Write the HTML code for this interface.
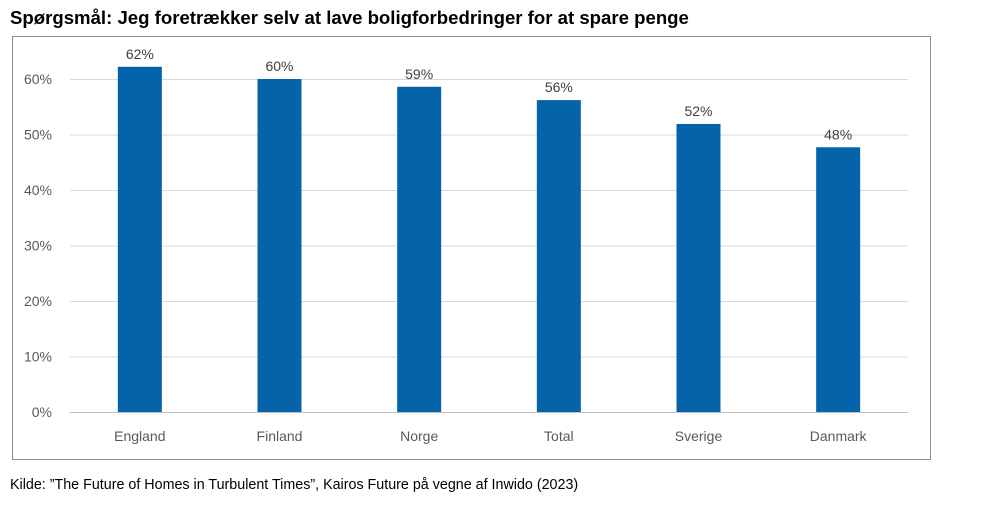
<!DOCTYPE html>
<html><head><meta charset="utf-8"><style>
body{margin:0;background:#fff;width:1000px;height:516px;overflow:hidden;font-family:"Liberation Sans",Arial,sans-serif;}
</style></head><body>
<svg width="1000" height="516" xmlns="http://www.w3.org/2000/svg">
<text x="10" y="24" font-size="18.6" font-weight="bold" fill="#000">Spørgsmål: Jeg foretrækker selv at lave boligforbedringer for at spare penge</text>
<rect x="12.5" y="36.5" width="918" height="423" fill="#fff" stroke="#8c8c8c"/>
<g id="grid"></g><g id="bars"></g><g id="labels"></g>
<text x="10" y="489" font-size="14.3" fill="#000">Kilde: ”The Future of Homes in Turbulent Times”, Kairos Future på vegne af Inwido (2023)</text>
</svg>
<script>
const categories=["England","Finland","Norge","Total","Sverige","Danmark"];
const values=[62.2,60,58.6,56.2,51.9,47.7];
const valueLabels=["62%","60%","59%","56%","52%","48%"];
const ticks=[0,10,20,30,40,50,60];
const NS="http://www.w3.org/2000/svg";
const x0=70,x1=908,y0=412,pxPer=5.55;
const y=v=>y0-v*pxPer;
const step=(x1-x0)/categories.length;
const xc=i=>x0+step*(i+0.5);
function mk(t,a,p,txt){const e=document.createElementNS(NS,t);for(const k in a)e.setAttribute(k,a[k]);if(txt!=null)e.textContent=txt;document.getElementById(p).appendChild(e);return e;}
ticks.forEach(t=>{
const l=mk("line",{x1:x0,x2:x1,y1:y(t)+0.5,y2:y(t)+0.5,stroke:t===0?"#bfbfbf":"#d9d9d9","stroke-width":1},"grid");


const tx=mk("text",{x:52,y:y(t)+5,"font-size":14,fill:"#595959","text-anchor":"end"},"grid",t+"%");


});
categories.forEach((c,i)=>{
const v=values[i];
const r=mk("rect",{x:xc(i)-22,y:y(v),width:44,height:y0-y(v),fill:"#0563a9"},"bars");


const vl=mk("text",{x:xc(i),y:y(v)-8,"font-size":14,fill:"#404040","text-anchor":"middle"},"labels",valueLabels[i]);


const cl=mk("text",{x:xc(i),y:441,"font-size":14,fill:"#595959","text-anchor":"middle"},"labels",c);


});
</script>
</body></html>
